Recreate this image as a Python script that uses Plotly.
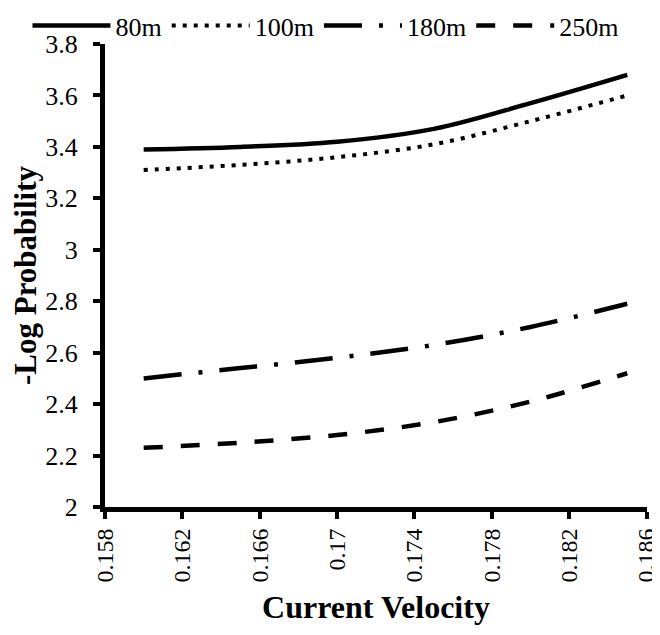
import plotly.graph_objects as go

velocity = [0.160, 0.165, 0.170, 0.175, 0.180, 0.185]
p80 = [3.39, 3.40, 3.42, 3.47, 3.57, 3.68]
p100 = [3.31, 3.33, 3.36, 3.41, 3.50, 3.60]
p180 = [2.50, 2.54, 2.58, 2.63, 2.70, 2.79]
p250 = [2.23, 2.25, 2.28, 2.33, 2.41, 2.52]

x_ticks = [0.158, 0.162, 0.166, 0.170, 0.174, 0.178, 0.182, 0.186]
x_tick_labels = ["0.158", "0.162", "0.166", "0.17", "0.174", "0.178", "0.182", "0.186"]
y_ticks = [2, 2.2, 2.4, 2.6, 2.8, 3, 3.2, 3.4, 3.6, 3.8]
y_tick_labels = ["2", "2.2", "2.4", "2.6", "2.8", "3", "3.2", "3.4", "3.6", "3.8"]

series = [
    ("80m", p80, "solid", 4.5),
    ("100m", p100, "4px,7px", 4),
    ("180m", p180, "38px,17px,4px,17px", 4.5),
    ("250m", p250, "19px,18px", 4.5),
]

fig = go.Figure()
for name, vals, dash, w in series:
    fig.add_trace(go.Scatter(
        x=velocity, y=vals, mode="lines", name=name,
        line=dict(color="black", width=w, dash=dash, shape="spline"),
    ))

font = "Liberation Serif"
# the page body adds an 8px offset, so the figure is 8px smaller than the window
fig.update_layout(
    width=652, height=627,
    margin=dict(l=97, r=13, t=36, b=128, autoexpand=False),
    paper_bgcolor="white", plot_bgcolor="white",
    font=dict(family=font, size=26, color="black"),
    showlegend=True,
    legend=dict(orientation="h", x=-0.143, xanchor="left", y=1.04, yanchor="middle",
                font=dict(size=26), itemwidth=78, tracegroupgap=0,
                bgcolor="rgba(0,0,0,0)"),
    xaxis=dict(
        range=[0.158, 0.18602], tickvals=x_ticks, ticktext=x_tick_labels,
        showline=True, linewidth=5, linecolor="black", automargin=False,
        ticks="outside", ticklen=7, tickwidth=4, tickcolor="black",
        tickangle=-90, showgrid=False, zeroline=False, ticklabeloverflow="allow",
        tickfont=dict(size=24),
        title=dict(text="<b>Current Velocity</b>", font=dict(size=32), standoff=16),
    ),
    yaxis=dict(
        range=[2, 3.8], tickvals=y_ticks, ticktext=y_tick_labels,
        showline=True, linewidth=5, linecolor="black", automargin=False,
        ticks="outside", ticklen=7, tickwidth=4, tickcolor="black",
        showgrid=False, zeroline=False, ticklabelstandoff=10,
        title=dict(text="<b>-Log Probability</b>", font=dict(size=31), standoff=18),
    ),
)

fig.write_html("out.html")
